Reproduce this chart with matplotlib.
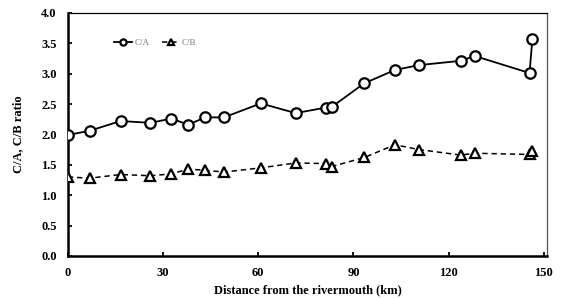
import matplotlib.pyplot as plt

# distance from the rivermouth (km)
dist = [0, 6.9, 16.6, 26, 32.6, 37.9, 43.3, 49.2, 60.8, 71.8, 81.2, 83.1,
        93.4, 103.1, 110.7, 123.8, 128.2, 145.5, 146.4]
ca = [1.99, 2.06, 2.22, 2.19, 2.26, 2.16, 2.28, 2.28, 2.51, 2.35, 2.44, 2.45,
      2.84, 3.06, 3.14, 3.21, 3.29, 3.01, 3.57]
cb = [1.30, 1.28, 1.34, 1.32, 1.35, 1.43, 1.41, 1.38, 1.45, 1.53, 1.52, 1.47,
      1.62, 1.83, 1.75, 1.66, 1.69, 1.67, 1.72]

xticks = [0, 30, 60, 90, 120, 150]
yticks = [0.0, 0.5, 1.0, 1.5, 2.0, 2.5, 3.0, 3.5, 4.0]

plt.rcParams['font.family'] = ['Liberation Serif', 'DejaVu Serif']

fig = plt.figure(figsize=(5.61, 2.98), dpi=100)
ax = fig.add_axes([0.121, 0.141, 0.854, 0.816])

ax.plot(dist, ca, '-', color='black', lw=1.3, marker='o', ms=7.5,
        mfc='white', mec='black', mew=1.6, label='C/A', zorder=3)
ax.plot(dist, cb, '--', color='black', lw=1.1, marker='^', ms=7.5,
        mfc='white', mec='black', mew=1.6, label='C/B', zorder=3,
        dashes=(3.5, 2.5))

ax.set_xlim(0, 151)
ax.set_ylim(0, 4)
ax.set_xticks(xticks)
ax.set_yticks(yticks)
ax.set_yticklabels(['%.1f' % v for v in yticks])
ax.tick_params(direction='in', length=3, width=1.3, labelsize=9, pad=8)
for lab in ax.get_xticklabels() + ax.get_yticklabels():
    lab.set_fontweight('bold')

ax.spines['left'].set_linewidth(1.8)
ax.spines['bottom'].set_linewidth(1.8)
ax.spines['top'].set_linewidth(0.9)
ax.spines['right'].set_linewidth(0.9)
ax.spines['right'].set_color('#555555')

ax.set_xlabel('Distance from the rivermouth (km)', fontsize=9, fontweight='bold', labelpad=4)
ax.set_ylabel('C/A, C/B ratio', fontsize=9, fontweight='bold', labelpad=12)

leg = ax.legend(loc='upper left', bbox_to_anchor=(0.08, 0.925), ncol=2, frameon=False,
                fontsize=6.5, handlelength=2.0, handletextpad=0.2, columnspacing=1.4,
                markerscale=0.6)
for t in leg.get_texts():
    t.set_color('#777777')

fig.savefig('out.png', dpi=100)
